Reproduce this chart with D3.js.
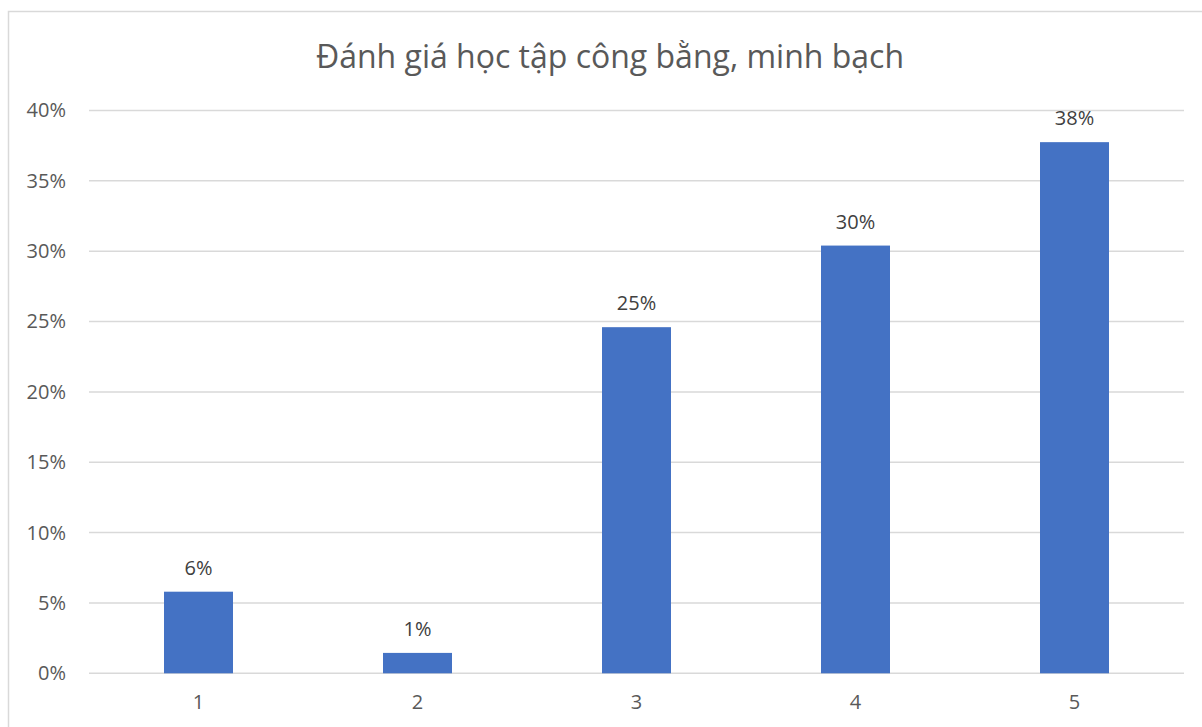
<!DOCTYPE html>
<html><head><meta charset="utf-8">
<script src="https://cdn.jsdelivr.net/npm/d3@7"></script>
<style>html,body{margin:0;padding:0;background:#fff;}svg{display:block;}</style>
</head><body>
<svg id="chart" width="1202" height="727"></svg>
<script>
const title = "Đánh giá học tập công bằng, minh bạch";
const categories = ["1", "2", "3", "4", "5"];
const values = [0.058, 0.0145, 0.246, 0.304, 0.3775];
const yTicks = [0, 0.05, 0.10, 0.15, 0.20, 0.25, 0.30, 0.35, 0.40];

const font = "'Open Sans', sans-serif";
const textColor = "#595959";
const svg = d3.select("#chart");

// chart border
svg.append("rect").attr("x", 8.5).attr("y", 11.5).attr("width", 1205).attr("height", 730)
  .attr("fill", "#fff").attr("stroke", "#d9d9d9").attr("stroke-width", 1.5);

const plotLeft = 89, plotRight = 1184, plotTop = 110.5, plotBottom = 673.3;
const x = d3.scaleBand().domain(categories).range([plotLeft, plotRight]).paddingInner(0.685).paddingOuter(0.3425);
const y = d3.scaleLinear().domain([0, 0.4]).range([plotBottom, plotTop]);

// gridlines
svg.append("g").selectAll("line").data(yTicks).join("line")
  .attr("x1", plotLeft).attr("x2", plotRight)
  .attr("y1", d => y(d)).attr("y2", d => y(d))
  .attr("stroke", "#d9d9d9").attr("stroke-width", 1.5);

// y axis
const yAxis = d3.axisLeft(y).tickValues(yTicks).tickFormat(d3.format(".0%")).tickSize(0).tickPadding(0);
const gy = svg.append("g").attr("transform", `translate(66,0)`).call(yAxis);
gy.select(".domain").remove();
gy.selectAll("text").attr("fill", textColor).style("font-family", font).style("font-size", "20px");

// x axis
const xAxis = d3.axisBottom(x).tickSize(0).tickPadding(0);
const gx = svg.append("g").attr("transform", `translate(0,${plotBottom + 21})`).call(xAxis);
gx.select(".domain").remove();
gx.selectAll("text").attr("fill", textColor).style("font-family", font).style("font-size", "20px");

// bars
svg.append("g").selectAll("rect").data(values).join("rect")
  .attr("x", (d, i) => x(categories[i]))
  .attr("width", x.bandwidth())
  .attr("y", d => y(d))
  .attr("height", d => y(0) - y(d))
  .attr("fill", "#4472c4");

// data labels
svg.append("g").selectAll("text").data(values).join("text")
  .attr("x", (d, i) => x(categories[i]) + x.bandwidth() / 2)
  .attr("y", d => y(d) - 17)
  .attr("text-anchor", "middle")
  .attr("fill", "#404040")
  .style("font-family", font).style("font-size", "20px")
  .text(d => d3.format(".0%")(d));

// title
svg.append("text").attr("x", 610).attr("y", 68).attr("text-anchor", "middle")
  .attr("fill", textColor).style("font-family", font).style("font-size", "32px")
  .text(title);
</script>
</body></html>
